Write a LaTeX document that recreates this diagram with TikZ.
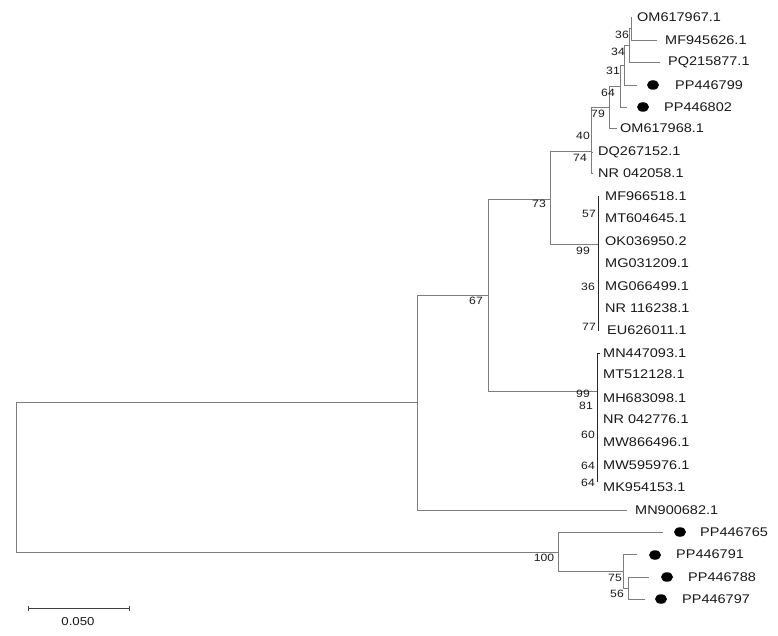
\documentclass[tikz,border=0pt]{standalone}
\usepackage{fontspec}
\setmainfont{Liberation Sans}[FakeStretch=1.15]
\usetikzlibrary{shapes.geometric}
\definecolor{brc}{RGB}{125,125,125}
\definecolor{txt}{RGB}{25,25,25}
\begin{document}
\begin{tikzpicture}[x=1pt,y=-1pt,
  br/.style={draw=brc, line width=0.9pt},
  vbr/.style={draw=black!85, line width=0.9pt},
  leaf/.style={anchor=west, inner sep=0pt, text=txt, font=\fontsize{12.6}{14}\selectfont},
  bs/.style={inner sep=0pt, text=txt, font=\fontsize{10.6}{12}\selectfont},
  dot/.style={ellipse, fill=black, minimum width=12pt, minimum height=9.5pt, inner sep=0pt}]
\useasboundingbox (0,0) rectangle (778,636);

% internal nodes
\coordinate (root) at (16,477.5);
\coordinate (nA) at (417,402.5);
\coordinate (n67) at (488,295);
\coordinate (n73) at (550,199);
\coordinate (n74) at (591,151.5);
\coordinate (n40) at (591,129.5);
\coordinate (n79) at (609,107);
\coordinate (n64) at (620,86);
\coordinate (n31) at (624,65);
\coordinate (n34) at (629,45);
\coordinate (n36) at (631,28.5);
\coordinate (nM) at (598,244);
\coordinate (nB) at (597,391);
\coordinate (n100) at (558,552);
\coordinate (n75) at (623,571);
\coordinate (n56) at (628,588);

% leaf tips
\coordinate (t1) at (632,17);
\coordinate (t2) at (657,40);
\coordinate (t3) at (660,62);
\coordinate (t4) at (637,85);
\coordinate (t5) at (627,107);
\coordinate (t6) at (617,128);
\coordinate (t7) at (593,152);
\coordinate (t8) at (593,173);
\coordinate (t9) at (599,196);
\coordinate (t10) at (599,218);
\coordinate (t11) at (599,241);
\coordinate (t12) at (599,263);
\coordinate (t13) at (599,286);
\coordinate (t14) at (599,308);
\coordinate (t15) at (599,330);
\coordinate (t16) at (600,353);
\coordinate (t17) at (597,374);
\coordinate (t18) at (597,398);
\coordinate (t19) at (597,419);
\coordinate (t20) at (597,442);
\coordinate (t21) at (597,465);
\coordinate (t22) at (597,482);
\coordinate (t23) at (627,510);
\coordinate (t24) at (663,532);
\coordinate (t25) at (637,554);
\coordinate (t26) at (649,577);
\coordinate (t27) at (645,599);

% branches
\draw[br] (root) |- (nA);
\draw[br] (root) |- (n100);
\draw[br] (nA) |- (n67);
\draw[br] (nA) |- (t23);
\draw[br] (n67) |- (n73);
\draw[br] (n67) |- (nB);
\draw[br] (n73) |- (n74);
\draw[br] (n73) |- (nM);
\draw[br] (n74) |- (n40);
\draw[br] (n74) |- (t8);
\draw[br] (n40) |- (n79);
\draw[br] (n40) |- (t7);
\draw[br] (n79) |- (n64);
\draw[br] (n79) |- (t6);
\draw[br] (n64) |- (n31);
\draw[br] (n64) |- (t5);
\draw[br] (n31) |- (n34);
\draw[br] (n31) |- (t4);
\draw[br] (n34) |- (n36);
\draw[br] (n34) |- (t3);
\draw[br] (n36) |- (t1);
\draw[br] (n36) |- (t2);
\foreach \i in {9,...,15} \draw[vbr] (nM) |- (t\i);
\foreach \i in {16,...,22} \draw[vbr] (nB) |- (t\i);
\draw[br] (n100) |- (t24);
\draw[br] (n100) |- (n75);
\draw[br] (n75) |- (t25);
\draw[br] (n75) |- (n56);
\draw[br] (n56) |- (t26);
\draw[br] (n56) |- (t27);

% leaf labels
\node[leaf] (L1) at (637,17) {OM617967.1};
\node[leaf] (L2) at (665,40) {MF945626.1};
\node[leaf] (L3) at (668,62) {PQ215877.1};
\node[dot] (D4) at (653,85) {};
\node[leaf] (L4) at (675,85) {PP446799};
\node[dot] (D5) at (643,107) {};
\node[leaf] (L5) at (664,107) {PP446802};
\node[leaf] (L6) at (620,128) {OM617968.1};
\node[leaf] (L7) at (598,152) {DQ267152.1};
\node[leaf] (L8) at (598,173) {NR 042058.1};
\node[leaf] (L9) at (605,196) {MF966518.1};
\node[leaf] (L10) at (605,218) {MT604645.1};
\node[leaf] (L11) at (605,241) {OK036950.2};
\node[leaf] (L12) at (605,263) {MG031209.1};
\node[leaf] (L13) at (605,286) {MG066499.1};
\node[leaf] (L14) at (605,308) {NR 116238.1};
\node[leaf] (L15) at (607,330) {EU626011.1};
\node[leaf] (L16) at (603,353) {MN447093.1};
\node[leaf] (L17) at (603,374) {MT512128.1};
\node[leaf] (L18) at (603,398) {MH683098.1};
\node[leaf] (L19) at (603,419) {NR 042776.1};
\node[leaf] (L20) at (603,442) {MW866496.1};
\node[leaf] (L21) at (603,465) {MW595976.1};
\node[leaf] (L22) at (603,487) {MK954153.1};
\node[leaf] (L23) at (635,510) {MN900682.1};
\node[dot] (D24) at (680,532) {};
\node[leaf] (L24) at (700,532) {PP446765};
\node[dot] (D25) at (655,555) {};
\node[leaf] (L25) at (676,554) {PP446791};
\node[dot] (D26) at (667,577) {};
\node[leaf] (L26) at (688,577) {PP446788};
\node[dot] (D27) at (661,599) {};
\node[leaf] (L27) at (682,599) {PP446797};

% bootstrap values
\node[bs] (b1) at (622,35) {36};
\node[bs] (b2) at (618,52) {34};
\node[bs] (b3) at (613,71) {31};
\node[bs] (b4) at (608,93) {64};
\node[bs] (b5) at (598,114) {79};
\node[bs] (b6) at (583,136) {40};
\node[bs] (b7) at (580,158) {74};
\node[bs] (b8) at (539,204) {73};
\node[bs] (b9) at (476,301) {67};
\node[bs] (b10) at (589,214) {57};
\node[bs] (b11) at (583,251) {99};
\node[bs] (b12) at (588,287) {36};
\node[bs] (b13) at (589,327) {77};
\node[bs] (b14) at (583,394) {99};
\node[bs] (b15) at (586,406) {81};
\node[bs] (b16) at (588,435) {60};
\node[bs] (b17) at (588,466) {64};
\node[bs] (b18) at (588,483) {64};
\node[bs] (b19) at (544,558) {100};
\node[bs] (b20) at (615,578) {75};
\node[bs] (b21) at (617,594) {56};

% scale bar
\coordinate (sbL) at (28,608);
\coordinate (sbR) at (129,608);
\draw[draw=black!75, line width=0.8pt] (sbL) -- (sbR);
\draw[draw=black!75, line width=0.6pt] ([yshift=-2.5pt]sbL) -- ([yshift=2.5pt]sbL);
\draw[draw=black!75, line width=0.6pt] ([yshift=-2.5pt]sbR) -- ([yshift=2.5pt]sbR);
\node[bs, font=\fontsize{11.5}{13}\selectfont] (sbt) at (78,622) {0.050};
\end{tikzpicture}
\end{document}
